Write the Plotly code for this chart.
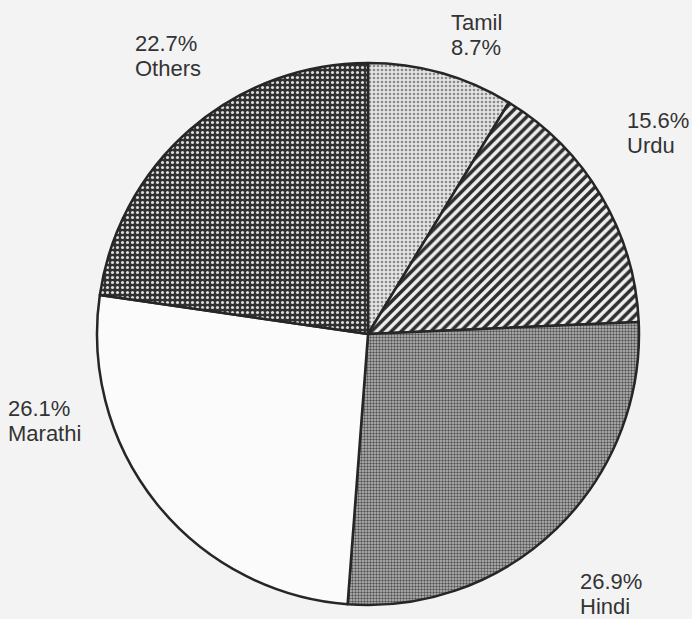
import plotly.graph_objects as go

# ---- data ----
languages = ["Tamil", "Urdu", "Hindi", "Marathi", "Others"]
shares = [8.7, 15.6, 26.9, 26.1, 22.7]
# label order: True = name first, then percentage
name_first = [True, False, False, False, False]

# ---- styles ----
pattern_shapes = [".", "/", ".", "", "."]
pattern_fg = ["#8a8a8a", "#2e2e2e", "#555555", "#ffffff", "#dcdcdc"]
pattern_bg = ["#e4e4e4", "#f0f0f0", "#bdbdbd", "#fbfbfb", "#303030"]
pattern_size = [4, 7, 3, 4, 5]
pattern_sol = [0.35, 0.5, 0.5, 0.01, 0.3]

W, H = 692, 619
ml, mr, mt, mb = 97, 53, 63, 14
pw, ph = W - ml - mr, H - mt - mb
line_gap = 25

# label anchor boxes (top-left, pixels)
label_px = [(449, 8), (625, 106), (578, 567), (6, 394), (133, 29)]

fig = go.Figure(go.Pie(
    labels=languages,
    values=shares,
    sort=False,
    direction="clockwise",
    rotation=0,
    textinfo="none",
    hoverinfo="label+percent",
    showlegend=False,
    marker=dict(
        colors=pattern_bg,
        line=dict(color="#262626", width=2.5),
        pattern=dict(
            shape=pattern_shapes,
            fgcolor=pattern_fg,
            bgcolor=pattern_bg,
            size=pattern_size,
            solidity=pattern_sol,
            fillmode="replace",
        ),
    ),
    domain=dict(x=[0, 1], y=[0, 1]),
))

annotations = []
for lang, val, nf, (px, py) in zip(languages, shares, name_first, label_px):
    lines = [lang, f"{val}%"] if nf else [f"{val}%", lang]
    for i, ln in enumerate(lines):
        annotations.append(dict(
            text=ln,
            xref="paper", yref="paper",
            x=(px - ml) / pw, y=1 - (py + i * line_gap - mt) / ph,
            xanchor="left", yanchor="top", align="left",
            showarrow=False,
            font=dict(family="Liberation Sans, Arial, sans-serif", size=22, color="#333333"),
        ))

fig.update_layout(
    width=W, height=H,
    margin=dict(l=ml, r=mr, t=mt, b=mb),
    paper_bgcolor="#f3f3f3",
    plot_bgcolor="#f3f3f3",
    annotations=annotations,
)

fig.write_html(
    "out.html",
    config={"displayModeBar": False},
    post_script="document.body.style.margin='0';document.body.style.padding='0';document.body.style.background='#f3f3f3';",
)
